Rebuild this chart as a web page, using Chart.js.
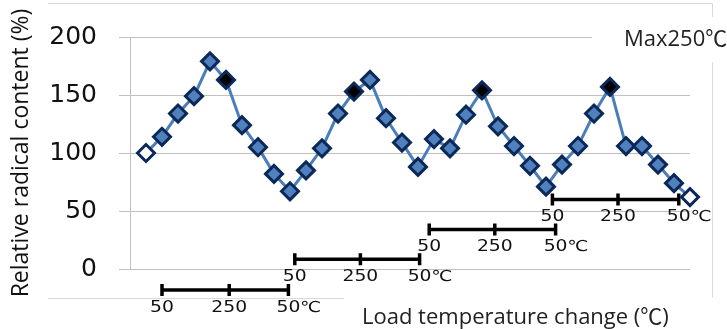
<!DOCTYPE html>
<html>
<head>
<meta charset="utf-8">
<script src="https://cdn.jsdelivr.net/npm/chart.js@4/dist/chart.umd.min.js"></script>
<style>
  html, body { margin: 0; padding: 0; background: #fff; }
</style>
</head>
<body>
<canvas id="myChart" width="727" height="329"></canvas>
<script>
// measurement steps along the temperature cycling
const steps = [1, 2, 3, 4, 5, 6, 7, 8, 9, 10, 11, 12, 13, 14, 15, 16, 17, 18,
               19, 20, 21, 22, 23, 24, 25, 26, 27, 28, 29, 30, 31, 32, 33, 34, 35];
const radical = [100, 114, 134, 149, 179, 163, 124, 105, 82, 67, 85, 104, 134, 153, 163, 130, 109, 88,
                 112, 104, 133, 154, 123, 106, 89, 71, 90, 106, 134, 157, 106, 106, 90, 74, 62];
const openSteps = [1, 35];
const peakSteps = [6, 14, 22, 30];
const yTicks = [0, 50, 100, 150, 200];

// temperature cycle bars (x in steps, y in % units)
const barStart = [2.0, 10.3, 18.7, 26.4];
const barPeak = [6.2, 14.4, 22.8, 30.5];
const barEnd = [9.9, 18.1, 26.6, 34.3];
const barLevel = [-18, 8.5, 34, 60];
const barLabels = ['50', '250', '50℃'];

const yTitle = 'Relative radical content (%)';
const xTitle = 'Load temperature change (℃)';
const maxNote = 'Max250℃';

const points = steps.map((s, i) => ({ x: s, y: radical[i] }));
const fills = steps.map(s => openSteps.includes(s) ? '#ffffff' : peakSteps.includes(s) ? '#000000' : '#4f81bd');

const decor = {
    id: 'decor',
    beforeDraw(chart) {
        const ctx = chart.ctx;
        ctx.save();
        ctx.fillStyle = '#fff';
        ctx.fillRect(0, 0, chart.width, chart.height);
        // chart frame
        ctx.strokeStyle = '#d9d9d9';
        ctx.lineWidth = 1;
        ctx.beginPath();
        ctx.moveTo(48, 3.5); ctx.lineTo(712.5, 3.5); ctx.lineTo(712.5, 297.5);
        ctx.moveTo(48, 298.5); ctx.lineTo(344, 298.5);
        ctx.stroke();
        ctx.restore();
    },
    beforeDatasetsDraw(chart) {
        const ctx = chart.ctx;
        const xs = chart.scales.x, ys = chart.scales.y;
        ctx.save();
        barStart.forEach((s, i) => {
            const x0 = xs.getPixelForValue(s);
            const xm = xs.getPixelForValue(barPeak[i]);
            const x1 = xs.getPixelForValue(barEnd[i]);
            const y = ys.getPixelForValue(barLevel[i]);
            ctx.strokeStyle = '#000';
            ctx.lineWidth = 3.5;
            ctx.beginPath();
            ctx.moveTo(x0, y); ctx.lineTo(x1, y);
            [x0, xm, x1].forEach(x => { ctx.moveTo(x, y - 6); ctx.lineTo(x, y + 6); });
            ctx.stroke();
            // stretched labels under the bar
            ctx.fillStyle = '#111';
            ctx.font = '15px "DejaVu Sans"';
            ctx.textBaseline = 'middle';
            const sx = 1.25;
            const half50 = ctx.measureText('50').width * sx / 2;
            [[x0, barLabels[0]], [xm, barLabels[1]], [x1, barLabels[2]]].forEach(([x, t], k) => {
                const w = ctx.measureText(t).width * sx;
                const left = k < 2 ? x - w / 2 : x - half50;
                ctx.save();
                ctx.translate(left, y + 18);
                ctx.scale(sx, 1);
                ctx.textAlign = 'left';
                ctx.fillText(t, 0, 0);
                ctx.restore();
            });
        });
        ctx.restore();
    },
    afterDraw(chart) {
        const ctx = chart.ctx;
        ctx.save();
        ctx.fillStyle = '#fff';
        ctx.fillRect(592, 17, 135, 45);
        ctx.fillStyle = '#222';
        ctx.font = '22px "Open Sans", "Noto Sans CJK JP"';
        ctx.textBaseline = 'middle';
        ctx.textAlign = 'left';
        ctx.fillText(maxNote, 624, 40);
        ctx.fillText(xTitle, 362, 318);
        ctx.restore();
    }
};

new Chart(document.getElementById('myChart'), {
    type: 'line',
    data: {
        datasets: [{
            data: points,
            borderColor: '#4a7ebb',
            borderWidth: 3,
            pointStyle: 'rectRot',
            pointRadius: 8.5,
            pointBorderWidth: 3,
            pointBorderColor: '#0b2858',
            pointBackgroundColor: fills,
            clip: false,
            tension: 0
        }]
    },
    options: {
        responsive: false,
        animation: false,
        events: [],
        layout: { padding: { top: 33, right: 37, bottom: 60, left: 0 } },
        plugins: { legend: { display: false }, tooltip: { enabled: false } },
        scales: {
            x: { type: 'linear', min: 0, max: 35, display: false },
            y: {
                min: 0,
                max: 200,
                afterBuildTicks: s => { s.ticks = yTicks.map(v => ({ value: v })); },
                afterFit: s => { s.width = 130; },
                ticks: { color: '#111', padding: 22, font: { family: 'DejaVu Sans', size: 25 } },
                grid: { color: '#c0c0c0', lineWidth: 1, tickLength: 11 },
                border: { color: '#c0c0c0' },
                title: {
                    display: true,
                    text: yTitle,
                    color: '#111',
                    padding: { top: 8, bottom: 0 },
                    font: { family: 'Open Sans', size: 23 }
                }
            }
        }
    },
    plugins: [decor]
});
</script>
</body>
</html>
